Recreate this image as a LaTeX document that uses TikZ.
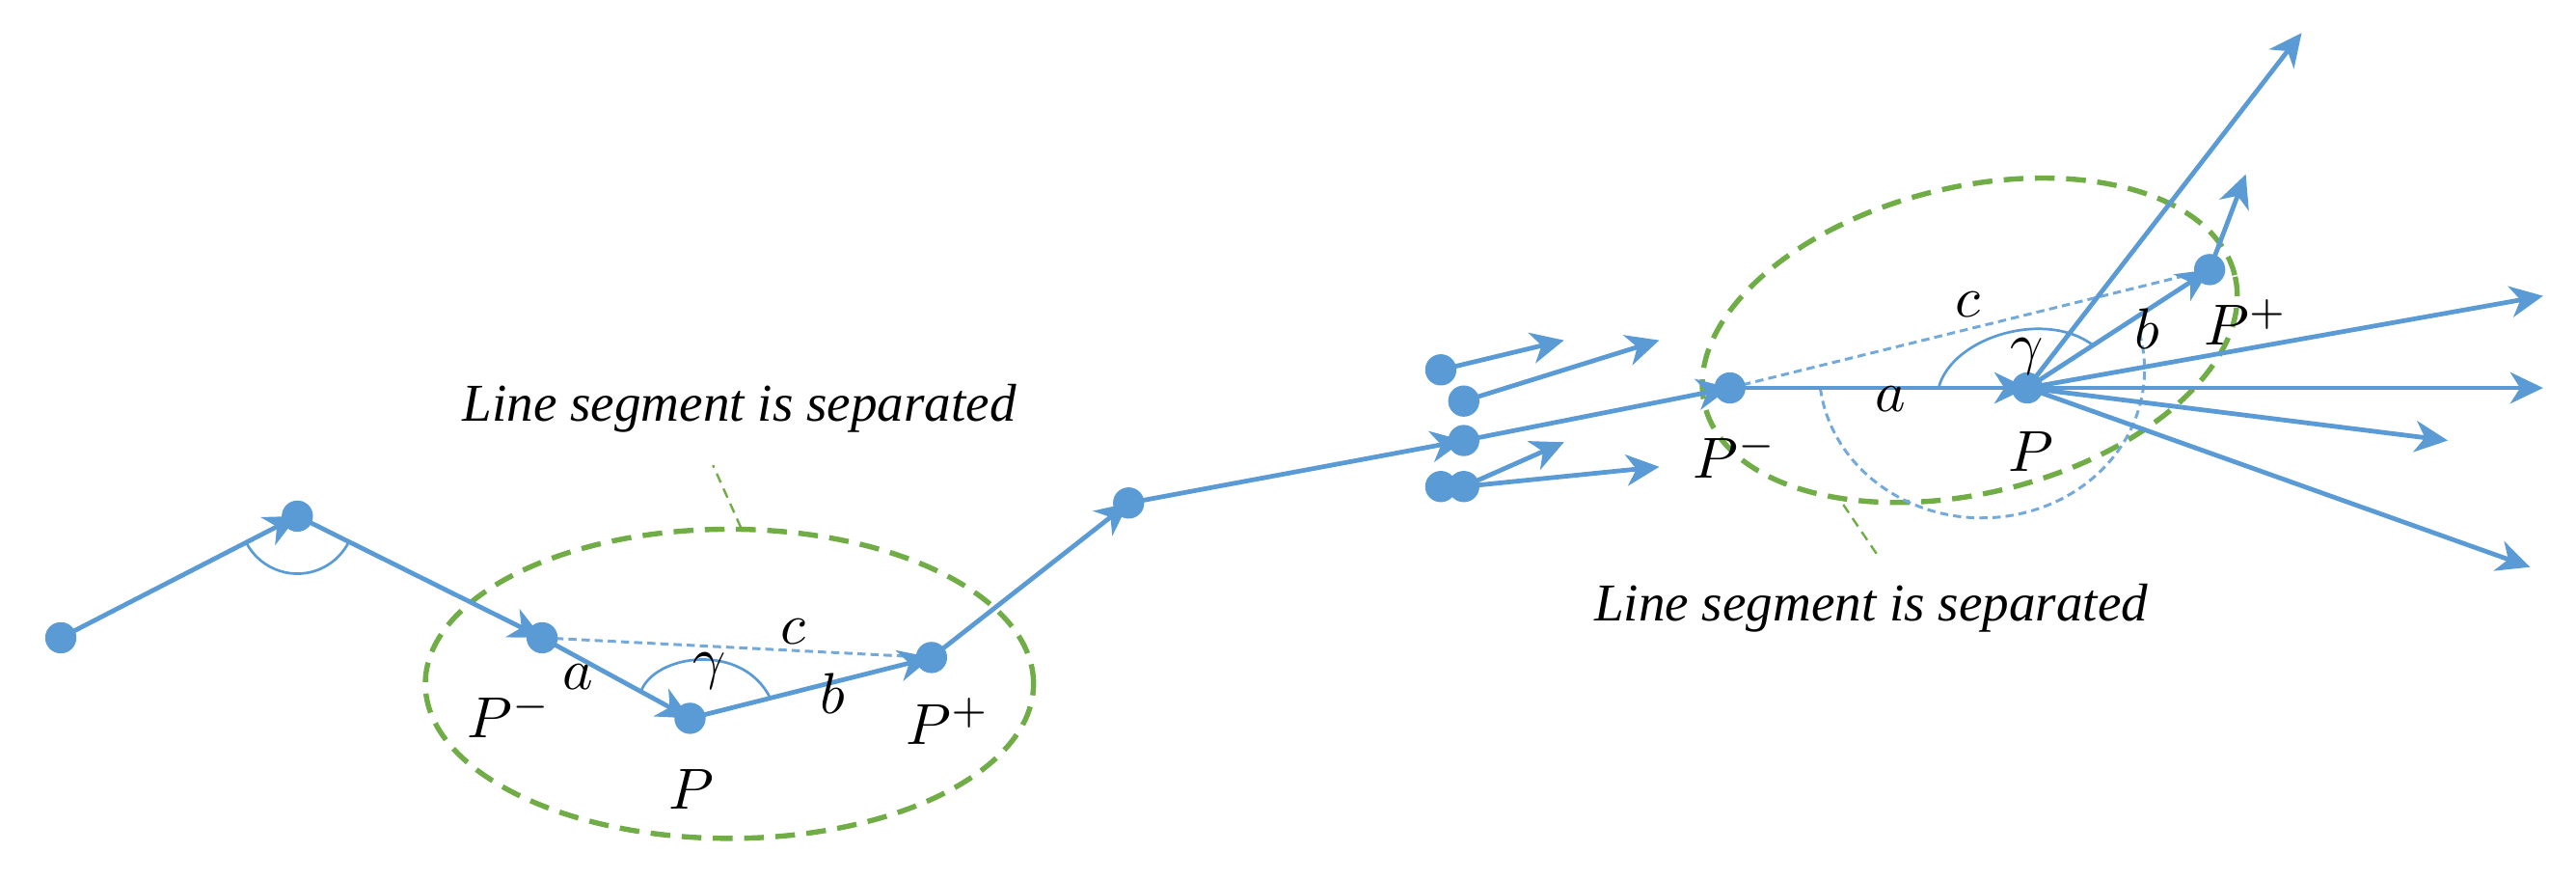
\documentclass[tikz,border=0pt]{standalone}
\usepackage{fontspec}
\setmainfont{Liberation Serif}
\usetikzlibrary{arrows.meta,backgrounds}
\definecolor{lblue}{HTML}{5B9BD5}
\definecolor{lgreen}{HTML}{70AD47}
\tikzset{
  dot/.style={circle, fill=lblue, inner sep=0pt, minimum size=0.19cm},
  seg/.style={draw=lblue, line width=0.8pt, -{Stealth[length=0.2cm,width=0.19cm,inset=0.06cm]}},
  cline/.style={draw=lblue!85, line width=0.5pt, dash pattern=on 0.05cm off 0.03cm},
  angarc/.style={draw=lblue, line width=0.45pt},
  grnell/.style={draw=lgreen, line width=0.9pt, dash pattern=on 0.12cm off 0.07cm},
  leader/.style={draw=lgreen, line width=0.4pt, dash pattern=on 0.06cm off 0.04cm},
  lbl/.style={font=\fontsize{10}{12}\selectfont, inner sep=0pt},
  captxt/.style={font=\fontsize{9.2}{11}\selectfont\itshape, inner sep=0pt, anchor=base}
}
\begin{document}
\begin{tikzpicture}[x=0.01cm, y=-0.01cm]
\useasboundingbox (0,0) rectangle (1568,535);

% ---------- left chain ----------
\node[dot] (A)   at (37,388)  {};
\node[dot] (B)   at (181,314) {};
\node[dot] (Pm1) at (330,388) {};
\node[dot] (P1)  at (420,437) {};
\node[dot] (Pp1) at (567,400) {};
\node[dot] (Q)   at (687,306) {};

% ---------- middle cluster ----------
\node[dot] (c1) at (877,225) {};
\node[dot] (c2) at (891,244) {};
\node[dot] (c3) at (891,268) {};
\node[dot] (c4) at (877,296) {};
\node[dot] (c5) at (891,296) {};
\coordinate (tc1)  at (952,207);
\coordinate (tc2)  at (1010,207);
\coordinate (tc5a) at (952,269);
\coordinate (tc5b) at (1010,284);

% ---------- right fan ----------
\node[dot] (Pm2) at (1053,236) {};
\node[dot] (P2)  at (1234,236) {};
\node[dot] (Pp2) at (1345,164) {};
\coordinate (t1) at (1401,20);
\coordinate (t2) at (1367,106);
\coordinate (t3) at (1548,180);
\coordinate (t4) at (1548,236);
\coordinate (t5) at (1490,268);
\coordinate (t6) at (1540,345);

% ---------- leader end points ----------
\coordinate (lL1) at (451,321);
\coordinate (lL2) at (434,283);
\coordinate (lR1) at (1122,307);
\coordinate (lR2) at (1143,338);

\begin{scope}[on background layer]
  % green dashed ellipses
  \draw[grnell] (444,416) ellipse [x radius=1.85cm, y radius=0.94cm];
  \draw[grnell, rotate around={13.8:(1199,207)}] (1199,207) ellipse [x radius=1.66cm, y radius=0.93cm];
  \draw[leader] (lL1) -- (lL2);
  \draw[leader] (lR1) -- (lR2);

  % dashed c lines
  \draw[cline] (Pm1.center) -- (Pp1.center);
  \draw[cline] (Pm2.center) -- (Pp2.center);
  % dashed arc (right)
  \draw[cline] (1108,236) arc[start angle=187, end angle=376, x radius=0.99cm, y radius=0.90cm];

  % angle arcs
  \draw[angarc] ([shift={(207.5:0.35cm)}]B.center) arc[start angle=207.5, end angle=333.4, radius=0.35cm];
  \draw[angarc] (390,421) .. controls (398,398) and (452,390) .. (469,425);
  \draw[angarc] (1180,236) .. controls (1188,205) and (1245,188) .. (1274,210);

  % chain segments
  \draw[seg] (A.center) -- (B.center);
  \draw[seg] (B.center) -- (Pm1.center);
  \draw[seg] (Pm1.center) -- (P1.center);
  \draw[seg] (P1.center) -- (Pp1.center);
  \draw[seg] (Pp1.center) -- (Q.center);
  \draw[seg] (Q.center) -- (c3.center);
  \draw[seg] (c3.center) -- (Pm2.center);
  \draw[seg] (Pm2.center) -- (P2.center);
  \draw[seg] (P2.center) -- (Pp2.center);
  \draw[seg] (Pp2.center) -- (t2);

  % cluster arrows
  \draw[seg] (c1.center) -- (tc1);
  \draw[seg] (c2.center) -- (tc2);
  \draw[seg] (c5.center) -- (tc5a);
  \draw[seg] (c5.center) -- (tc5b);

  % fan arrows
  \draw[seg] (P2.center) -- (t1);
  \draw[seg] (P2.center) -- (t3);
  \draw[seg] (P2.center) -- (t4);
  \draw[seg] (P2.center) -- (t5);
  \draw[seg] (P2.center) -- (t6);
\end{scope}

% ---------- labels left ----------
\node[lbl] (lPm) at (310,435) {$P^-$};
\node[lbl] (lP)  at (421,480) {$P$};
\node[lbl] (lPp) at (577,439) {$P^+$};
\node[lbl] (la)  at (352,412) {$a$};
\node[lbl] (lg)  at (432,408) {$\gamma$};
\node[lbl] (lc)  at (483,384) {$c$};
\node[lbl] (lb)  at (507,422) {$b$};

% ---------- labels right ----------
\node[lbl] (rPm) at (1056,277) {$P^-$};
\node[lbl] (rP)  at (1236,275) {$P$};
\node[lbl] (rPp) at (1367,196) {$P^+$};
\node[lbl] (ra)  at (1151,243) {$a$};
\node[lbl] (rg)  at (1234,217) {$\gamma$};
\node[lbl] (rc)  at (1198,185) {$c$};
\node[lbl] (rb)  at (1307,200) {$b$};

% ---------- captions ----------
\node[captxt] (capL) at (450,256) {Line segment is separated};
\node[captxt] (capR) at (1139,378) {Line segment is separated};
\end{tikzpicture}
\end{document}
